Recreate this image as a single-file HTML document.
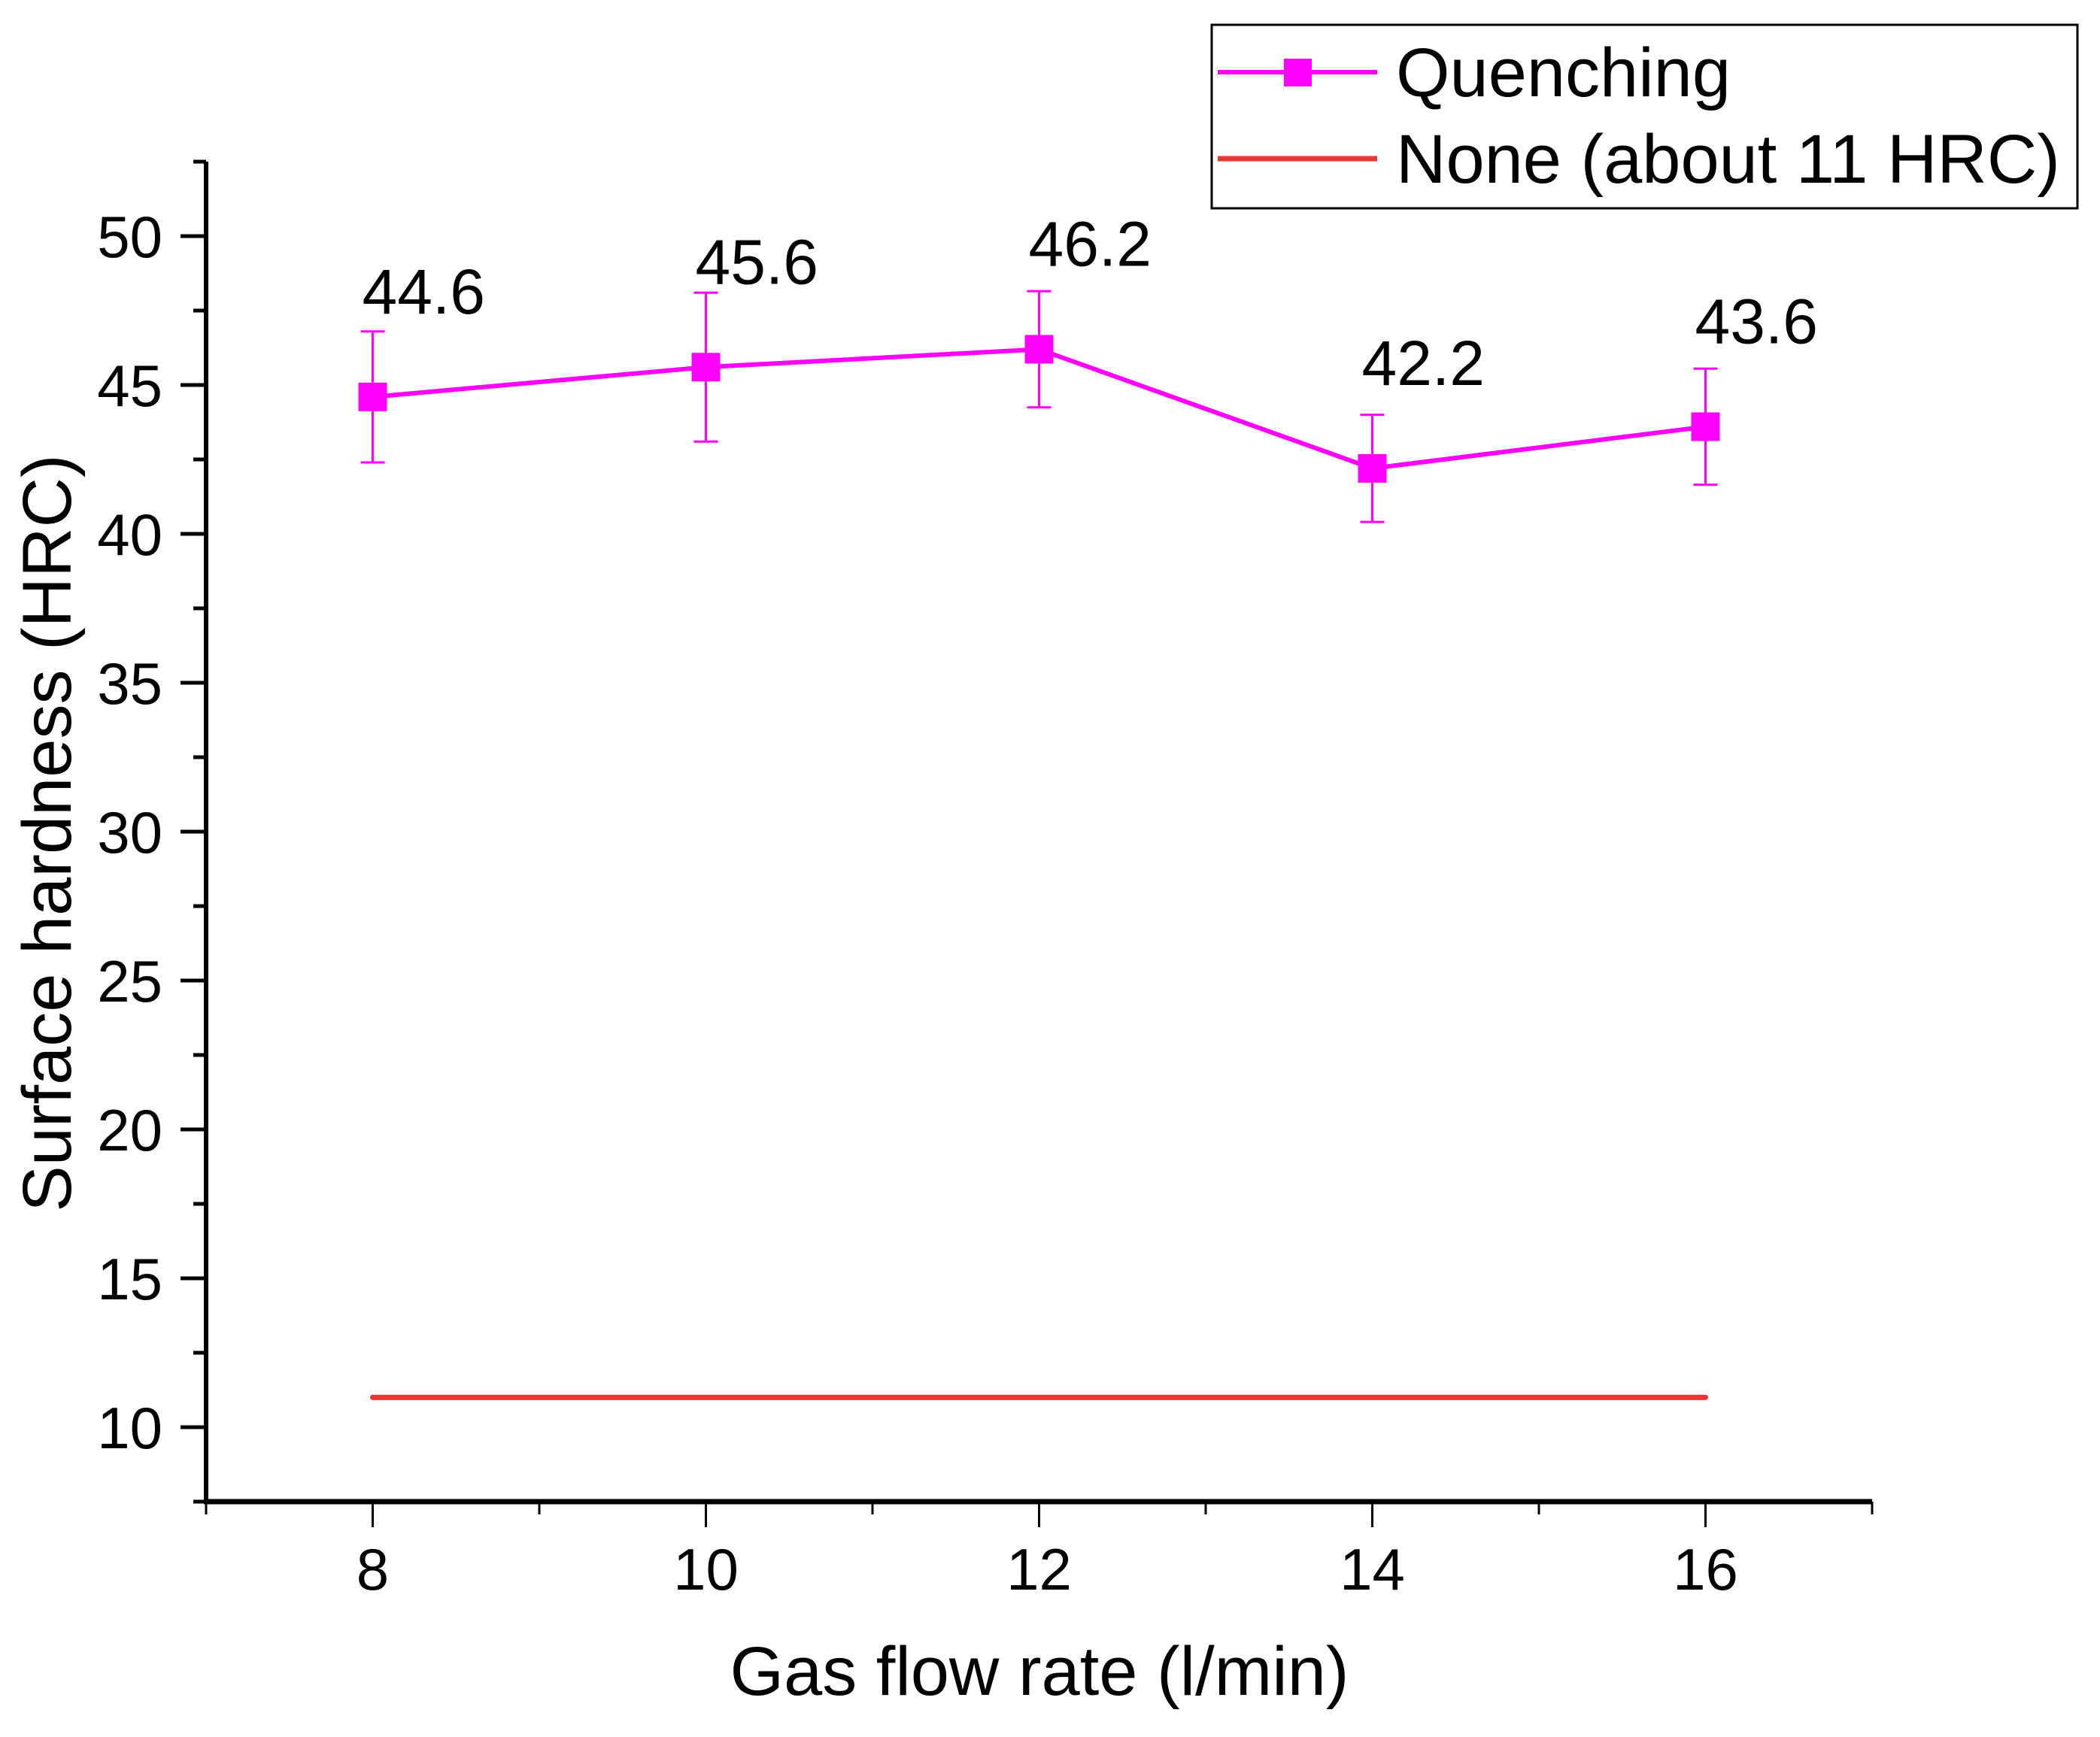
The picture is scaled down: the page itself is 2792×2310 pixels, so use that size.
<!DOCTYPE html>
<html><head><meta charset="utf-8"><style>
html,body{margin:0;padding:0;background:#fff;}
svg text{font-family:"Liberation Sans",Arial,sans-serif;fill:#000;}
</style></head><body>
<svg id="chart" width="2792" height="2305" viewBox="0 0 2792 2305" xmlns="http://www.w3.org/2000/svg">
<g id="axes"></g>
<g id="series"></g>
<text x="1382" y="2254" font-size="92" text-anchor="middle">Gas flow rate (l/min)</text>
<text x="0" y="0" font-size="92" text-anchor="middle" transform="translate(94,1108) rotate(-90)">Surface hardness (HRC)</text>
<g>
<rect x="1611" y="33" width="1151" height="244" fill="#fff" stroke="#000" stroke-width="3"/>
<line x1="1619" y1="96" x2="1831" y2="96" stroke="#ff00ff" stroke-width="6"/>
<rect x="1707" y="78" width="37" height="37" fill="#ff00ff"/>
<text x="1856" y="128" font-size="92">Quenching</text>
<line x1="1619" y1="211" x2="1831" y2="211" stroke="#ee3333" stroke-width="7"/>
<text x="1856" y="243" font-size="92">None (about 11 HRC)</text>
</g>
</svg>
<script>
const categories = [8, 10, 12, 14, 16];
const hardness = [44.6, 45.6, 46.2, 42.2, 43.6];
const errors = [2.2, 2.5, 1.95, 1.8, 1.95];
const valueLabels = ["44.6", "45.6", "46.2", "42.2", "43.6"];
const baseline = [11, 11];
const baselineX = [8, 16];
const xTicks = [8, 10, 12, 14, 16];
const yTicks = [10, 15, 20, 25, 30, 35, 40, 45, 50];

const NS = "http://www.w3.org/2000/svg";
const X0 = 274, X1 = 2489, XMIN = 7, XMAX = 17;
const Y0 = 1997, Y1 = 215, YMIN = 7.5, YMAX = 52.5;
const xs = v => X0 + (v - XMIN) / (XMAX - XMIN) * (X1 - X0);
const ys = v => Y0 - (v - YMIN) / (YMAX - YMIN) * (Y0 - Y1);
function mk(tag, attrs, parent){const e=document.createElementNS(NS,tag);for(const k in attrs)e.setAttribute(k,attrs[k]);parent.appendChild(e);return e;}
const axes = document.getElementById('axes');
const series = document.getElementById('series');

let e = mk('line',{x1:X0,y1:Y1,x2:X0,y2:Y0,stroke:'#000','stroke-width':6},axes);


e = mk('line',{x1:X0-3,y1:Y0,x2:X1,y2:Y0,stroke:'#000','stroke-width':7},axes);



for (let v = YMIN; v <= YMAX + 0.001; v += 2.5) {
  const major = yTicks.includes(v);
  e = mk('line',{x1:X0-(major?34:17),y1:ys(v),x2:X0,y2:ys(v),stroke:'#000','stroke-width':5},axes);
  
  
}
yTicks.forEach(v => {
  const t = mk('text',{x:216,y:ys(v)+28,'font-size':78,'text-anchor':'end'},axes);
  t.textContent = v;
  
  
});
for (let v = XMIN; v <= XMAX + 0.001; v += 1) {
  const major = xTicks.includes(v);
  e = mk('line',{x1:xs(v),y1:Y0,x2:xs(v),y2:Y0+(major?34:17),stroke:'#000','stroke-width':3},axes);
  
  
}
xTicks.forEach(v => {
  const t = mk('text',{x:xs(v),y:2114,'font-size':78,'text-anchor':'middle'},axes);
  t.textContent = v;
  
  
});

e = mk('line',{x1:xs(baselineX[0]),y1:ys(baseline[0]),x2:xs(baselineX[1]),y2:ys(baseline[1]),stroke:'#ee3333','stroke-width':7,'stroke-linecap':'round'},series);



const pts = categories.map((c,i)=>xs(c)+','+ys(hardness[i])).join(' ');
e = mk('polyline',{points:pts,fill:'none',stroke:'#ff00ff','stroke-width':6},series);



categories.forEach((c,i) => {
  const x = xs(c), y = ys(hardness[i]);
  const yt = ys(hardness[i]+errors[i]), yb = ys(hardness[i]-errors[i]);
  const g = mk('g',{},series);
  
  
  mk('line',{x1:x,y1:yt,x2:x,y2:yb,stroke:'#ff00ff','stroke-width':3},g);
  mk('line',{x1:x-16,y1:yt,x2:x+16,y2:yt,stroke:'#ff00ff','stroke-width':3},g);
  mk('line',{x1:x-16,y1:yb,x2:x+16,y2:yb,stroke:'#ff00ff','stroke-width':3},g);
  const r = mk('rect',{x:x-19,y:y-19,width:38,height:38,fill:'#ff00ff'},series);
  
  
  const t = mk('text',{x:x-14,y:ys(hardness[i]+2.8),'font-size':84},series);
  t.textContent = valueLabels[i];
  
  
});
</script>
</body></html>
